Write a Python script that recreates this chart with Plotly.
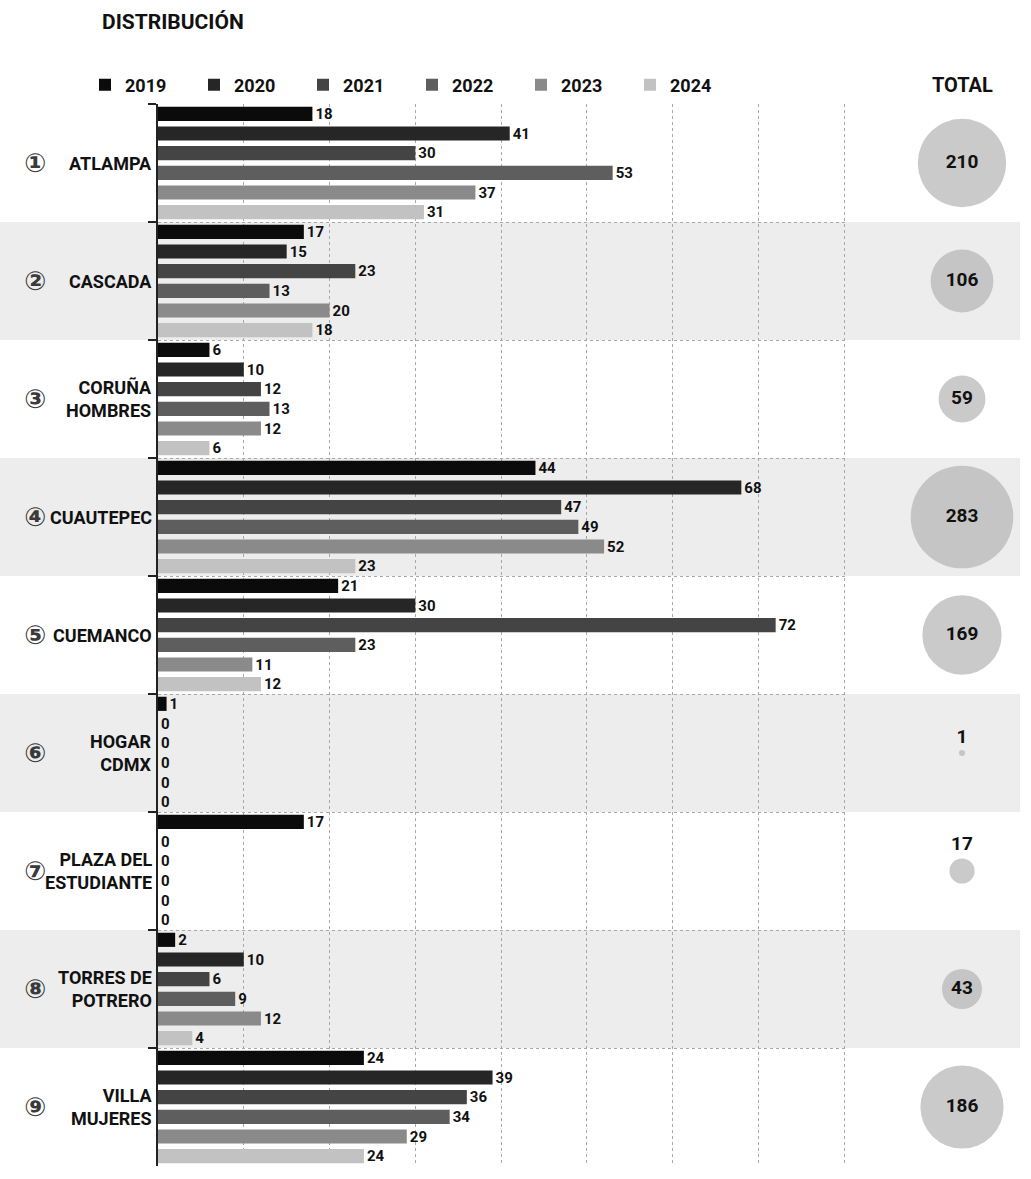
import plotly.graph_objects as go
import math

# ---------------- data ----------------
years = ["2019", "2020", "2021", "2022", "2023", "2024"]
sites = ["ATLAMPA", "CASCADA", "CORUÑA HOMBRES", "CUAUTEPEC", "CUEMANCO",
         "HOGAR CDMX", "PLAZA DEL ESTUDIANTE", "TORRES DE POTRERO", "VILLA MUJERES"]
site_labels = ["ATLAMPA", "CASCADA", "CORUÑA<br>HOMBRES", "CUAUTEPEC", "CUEMANCO",
               "HOGAR<br>CDMX", "PLAZA DEL<br>ESTUDIANTE", "TORRES DE<br>POTRERO", "VILLA<br>MUJERES"]
site_numbers = ["①", "②", "③", "④", "⑤", "⑥", "⑦", "⑧", "⑨"]

v2019 = [18, 17, 6, 44, 21, 1, 17, 2, 24]
v2020 = [41, 15, 10, 68, 30, 0, 0, 10, 39]
v2021 = [30, 23, 12, 47, 72, 0, 0, 6, 36]
v2022 = [53, 13, 13, 49, 23, 0, 0, 9, 34]
v2023 = [37, 20, 12, 52, 11, 0, 0, 12, 29]
v2024 = [31, 18, 6, 23, 12, 0, 0, 4, 24]
totals = [210, 106, 59, 283, 169, 1, 17, 43, 186]

series = [v2019, v2020, v2021, v2022, v2023, v2024]
colors = ["#0b0b0b", "#262626", "#444444", "#5e5e5e", "#8a8a8a", "#c2c2c2"]

FONT = "Roboto, Liberation Sans, Arial"
W, H = 1031, 1179
T, B = 104, 13
N = len(sites)

def px_y(py):
    return (H - B - py) / (H - T - B)

def px_x(px):
    return px / W

fig = go.Figure()

for yr, vals, col in zip(years, series, colors):
    fig.add_trace(go.Bar(
        name=yr, y=sites, x=vals, orientation="h",
        marker=dict(color=col, line=dict(width=0)),
        text=vals, texttemplate="%{x}", textposition="outside",
        textfont=dict(family=FONT, size=15, color="#111", weight="bold"),
        cliponaxis=False, constraintext="none",
        xaxis="x", yaxis="y",
    ))

# total bubbles (area proportional to total)
sizes = [6.1 * math.sqrt(t) for t in totals]
textpos = ["top center" if t < 30 else "middle center" for t in totals]
fig.add_trace(go.Scatter(
    x=[0.5] * N, y=sites, mode="markers+text",
    marker=dict(size=sizes, sizemode="diameter", color="#b4b4b4", line=dict(width=0)),
    text=totals, textposition=textpos,
    textfont=dict(family=FONT, size=19, color="#111", weight="bold"),
    showlegend=False, cliponaxis=False, xaxis="x2", yaxis="y2",
))

# grey alternate bands
shapes = []
for i in range(N):
    if i % 2 == 1:
        shapes.append(dict(type="rect", xref="paper", yref="y",
                           x0=0, x1=px_x(1020), y0=i - 0.5, y1=i + 0.5,
                           fillcolor="#ededed", line=dict(width=0), layer="below"))

annotations = [
    dict(text="DISTRIBUCIÓN", xref="paper", yref="paper", x=px_x(100), y=px_y(22),
         xanchor="left", yanchor="middle", showarrow=False,
         font=dict(family=FONT, size=21, color="#111", weight="bold")),
    dict(text="TOTAL", xref="paper", yref="paper", x=px_x(962), y=px_y(85),
         xanchor="center", yanchor="middle", showarrow=False,
         font=dict(family=FONT, size=20, color="#111", weight="bold")),
]
for s, lab, num in zip(sites, site_labels, site_numbers):
    annotations.append(dict(text=lab, xref="paper", yref="y", x=px_x(154), y=s,
                            xanchor="right", yanchor="middle", align="right", showarrow=False,
                            font=dict(family=FONT, size=18, color="#111", weight="bold")))
    annotations.append(dict(text=num, xref="paper", yref="y", x=px_x(35), y=s,
                            xanchor="center", yanchor="middle", showarrow=False,
                            font=dict(family="DejaVu Sans", size=26, color="#3a3a3a", weight="bold")))

fig.update_layout(
    width=W, height=H,
    margin=dict(l=0, r=0, t=T, b=B, pad=0),
    paper_bgcolor="white", plot_bgcolor="rgba(0,0,0,0)",
    barmode="group", bargap=0.0, bargroupgap=0.28,
    showlegend=True,
    legend=dict(orientation="h", x=px_x(85), y=px_y(85), xanchor="left", yanchor="middle",
                font=dict(family=FONT, size=18, color="#111", weight="bold"),
                entrywidth=64, entrywidthmode="pixels", itemwidth=30,
                bgcolor="rgba(0,0,0,0)", traceorder="normal"),
    xaxis=dict(domain=[px_x(158), px_x(846)], range=[0, 80.2], dtick=10,
               showgrid=True, gridcolor="#a8a8a8", griddash="dot", gridwidth=1,
               showticklabels=False, zeroline=False, showline=False, ticks=""),
    yaxis=dict(type="category", categoryorder="array", categoryarray=sites,
               range=[N - 0.5, -0.5], autorange=False,
               tickson="boundaries", ticks="outside", ticklen=8,
               tickcolor="#222", tickwidth=1.5,
               showgrid=True, gridcolor="#a8a8a8", griddash="dot", gridwidth=1,
               showline=True, linecolor="#222", linewidth=2,
               showticklabels=False, zeroline=False, anchor="x"),
    xaxis2=dict(domain=[px_x(893), 1.0], range=[0, 1], visible=False, anchor="y2"),
    yaxis2=dict(type="category", categoryorder="array", categoryarray=sites,
                range=[N - 0.5, -0.5], autorange=False,
                visible=False, showgrid=False, anchor="x2"),
    shapes=shapes, annotations=annotations,
    font=dict(family=FONT, color="#111"),
)

fig.write_html("out.html", config={"displayModeBar": False},
               post_script="document.body.style.margin='0px';")
